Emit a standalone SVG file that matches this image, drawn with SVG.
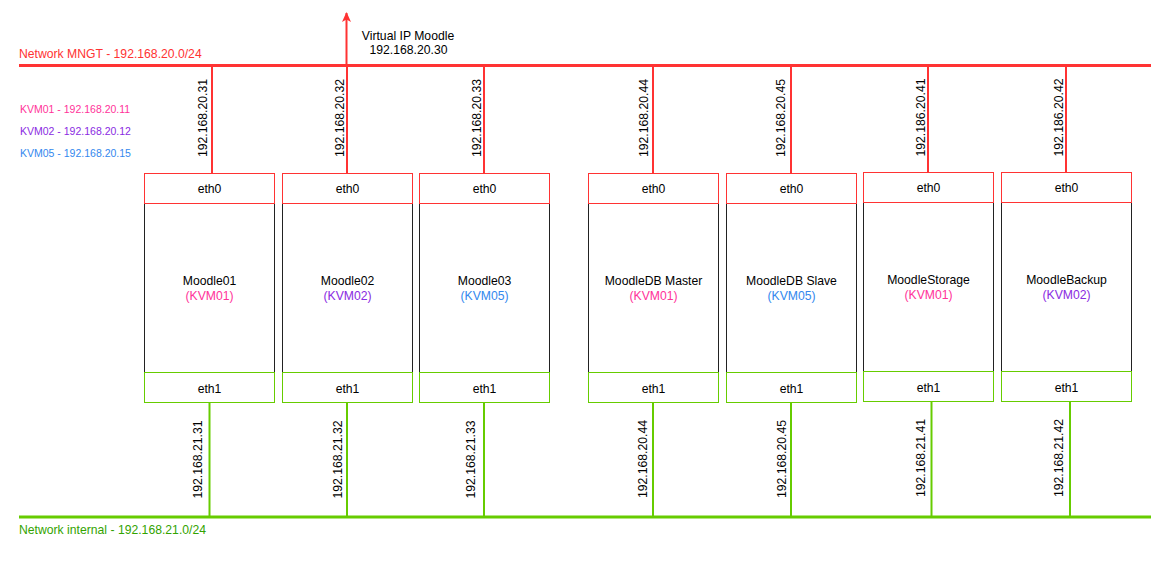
<svg xmlns="http://www.w3.org/2000/svg" width="1161" height="562" viewBox="0 0 1161 562">
<style>
text { font-family: "Liberation Sans", Arial, Helvetica, sans-serif; font-size: 12.2px; fill: #000; }
.c { text-anchor: middle; }
.red { fill: #FF3333; }
.grn { fill: #33A300; }
.k1 { fill: #FF3399; }
.k2 { fill: #8A2BE2; }
.k5 { fill: #3388EE; }
.kvm { font-size: 10.5px; }
.body { fill: #fff; stroke: #222; stroke-width: 1; }
.e0 { fill: #fff; stroke: #FF3333; stroke-width: 1; }
.e1 { fill: #fff; stroke: #66CC00; stroke-width: 1; }
.lr { stroke: #FF3333; stroke-width: 2; fill: none; }
.lg { stroke: #66CC00; stroke-width: 2; fill: none; }
</style>
<defs>
<marker id="arr" markerUnits="userSpaceOnUse" markerWidth="12" markerHeight="12" refX="9" refY="5" orient="auto">
<path d="M0,0.5 L10,5 L0,9.5 L2.5,5 Z" fill="#FF3333"/>
</marker>
</defs>

<!-- labels -->
<g id="labels">
<text class="red" x="19" y="58">Network MNGT - 192.168.20.0/24</text>
<text class="grn" x="19" y="533.5">Network internal - 192.168.21.0/24</text>
<text class="kvm k1" x="20" y="113.4">KVM01 - 192.168.20.11</text>
<text class="kvm k2" x="20" y="134.7">KVM02 - 192.168.20.12</text>
<text class="kvm k5" x="20" y="157">KVM05 - 192.168.20.15</text>
<text class="c" x="408" y="39.5">Virtual IP Moodle</text>
<text class="c" x="408.5" y="53.5">192.168.20.30</text>
</g>

<!-- connectors -->
<g id="connectors">
<line class="lr" x1="19" y1="65.5" x2="1151" y2="65.5" style="stroke-width:3"/>
<line class="lg" x1="19" y1="517" x2="1151" y2="517" style="stroke-width:3"/>
<line class="lr" x1="346.5" y1="64" x2="346.5" y2="13" marker-end="url(#arr)"/>

<line class="lr" x1="212" y1="66" x2="212" y2="173.5"/>
<line class="lr" x1="347" y1="66" x2="347" y2="173.5"/>
<line class="lr" x1="484" y1="66" x2="484" y2="173.5"/>
<line class="lr" x1="653" y1="66" x2="653" y2="173.5"/>
<line class="lr" x1="791" y1="66" x2="791" y2="173.5"/>
<line class="lr" x1="928" y1="66" x2="928" y2="172.5"/>
<line class="lr" x1="1066" y1="66" x2="1066" y2="172.5"/>

<line class="lg" x1="209.5" y1="402.5" x2="209.5" y2="516"/>
<line class="lg" x1="347" y1="402.5" x2="347" y2="516"/>
<line class="lg" x1="484" y1="402.5" x2="484" y2="516"/>
<line class="lg" x1="653" y1="402.5" x2="653" y2="516"/>
<line class="lg" x1="791" y1="402.5" x2="791" y2="516"/>
<line class="lg" x1="931.5" y1="401.5" x2="931.5" y2="516"/>
<line class="lg" x1="1070" y1="401.5" x2="1070" y2="516"/>

<!-- connector IP labels top -->
<text class="c" transform="translate(207.3,118) rotate(-90)">192.168.20.31</text>
<text class="c" transform="translate(344.3,118) rotate(-90)">192.168.20.32</text>
<text class="c" transform="translate(480.5,118) rotate(-90)">192.168.20.33</text>
<text class="c" transform="translate(647.5,118) rotate(-90)">192.168.20.44</text>
<text class="c" transform="translate(785.3,118) rotate(-90)">192.168.20.45</text>
<text class="c" transform="translate(925,117.5) rotate(-90)">192.186.20.41</text>
<text class="c" transform="translate(1062.5,117.5) rotate(-90)">192.186.20.42</text>

<!-- connector IP labels bottom -->
<text class="c" transform="translate(201.7,459.5) rotate(-90)">192.168.21.31</text>
<text class="c" transform="translate(342.3,459.5) rotate(-90)">192.168.21.32</text>
<text class="c" transform="translate(475,459.5) rotate(-90)">192.168.21.33</text>
<text class="c" transform="translate(647.3,459) rotate(-90)">192.168.20.44</text>
<text class="c" transform="translate(785.8,459) rotate(-90)">192.168.20.45</text>
<text class="c" transform="translate(925.3,458) rotate(-90)">192.168.21.41</text>
<text class="c" transform="translate(1062.8,458) rotate(-90)">192.168.21.42</text>
</g>

<!-- nodes -->
<g id="moodle01">
<rect class="body" x="144.5" y="203.5" width="130" height="169"/>
<rect class="e0" x="144.5" y="173.5" width="130" height="30"/>
<rect class="e1" x="144.5" y="372.5" width="130" height="30"/>
<text class="c" x="209.5" y="192.5">eth0</text>
<text class="c" x="209.5" y="285">Moodle01</text>
<text class="c k1" x="209.5" y="300.3">(KVM01)</text>
<text class="c" x="209.5" y="392.5">eth1</text>
</g>
<g id="moodle02">
<rect class="body" x="282.5" y="203.5" width="130" height="169"/>
<rect class="e0" x="282.5" y="173.5" width="130" height="30"/>
<rect class="e1" x="282.5" y="372.5" width="130" height="30"/>
<text class="c" x="347.5" y="192.5">eth0</text>
<text class="c" x="347.5" y="285">Moodle02</text>
<text class="c k2" x="347.5" y="300.3">(KVM02)</text>
<text class="c" x="347.5" y="392.5">eth1</text>
</g>
<g id="moodle03">
<rect class="body" x="419.5" y="203.5" width="130" height="169"/>
<rect class="e0" x="419.5" y="173.5" width="130" height="30"/>
<rect class="e1" x="419.5" y="372.5" width="130" height="30"/>
<text class="c" x="484.5" y="192.5">eth0</text>
<text class="c" x="484.5" y="285">Moodle03</text>
<text class="c k5" x="484.5" y="300.3">(KVM05)</text>
<text class="c" x="484.5" y="392.5">eth1</text>
</g>
<g id="moodledb-master">
<rect class="body" x="588.5" y="203.5" width="130" height="169"/>
<rect class="e0" x="588.5" y="173.5" width="130" height="30"/>
<rect class="e1" x="588.5" y="372.5" width="130" height="30"/>
<text class="c" x="653.5" y="192.5">eth0</text>
<text class="c" x="653.5" y="285">MoodleDB Master</text>
<text class="c k1" x="653.5" y="300.3">(KVM01)</text>
<text class="c" x="653.5" y="392.5">eth1</text>
</g>
<g id="moodledb-slave">
<rect class="body" x="726.5" y="203.5" width="130" height="169"/>
<rect class="e0" x="726.5" y="173.5" width="130" height="30"/>
<rect class="e1" x="726.5" y="372.5" width="130" height="30"/>
<text class="c" x="791.5" y="192.5">eth0</text>
<text class="c" x="791.5" y="285">MoodleDB Slave</text>
<text class="c k5" x="791.5" y="300.3">(KVM05)</text>
<text class="c" x="791.5" y="392.5">eth1</text>
</g>
<g id="moodlestorage">
<rect class="body" x="863.5" y="202.5" width="130" height="169"/>
<rect class="e0" x="863.5" y="172.5" width="130" height="30"/>
<rect class="e1" x="863.5" y="371.5" width="130" height="30"/>
<text class="c" x="928.5" y="191.5">eth0</text>
<text class="c" x="928.5" y="284">MoodleStorage</text>
<text class="c k1" x="928.5" y="299.3">(KVM01)</text>
<text class="c" x="928.5" y="391.5">eth1</text>
</g>
<g id="moodlebackup">
<rect class="body" x="1001.5" y="202.5" width="130" height="169"/>
<rect class="e0" x="1001.5" y="172.5" width="130" height="30"/>
<rect class="e1" x="1001.5" y="371.5" width="130" height="30"/>
<text class="c" x="1066.5" y="191.5">eth0</text>
<text class="c" x="1066.5" y="284">MoodleBackup</text>
<text class="c k2" x="1066.5" y="299.3">(KVM02)</text>
<text class="c" x="1066.5" y="391.5">eth1</text>
</g>
</svg>
